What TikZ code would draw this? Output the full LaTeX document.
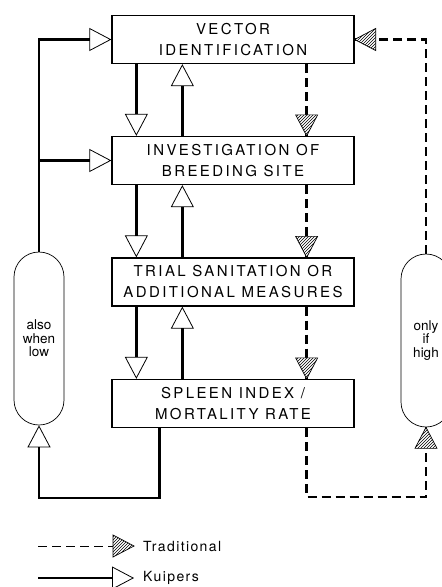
\documentclass[tikz,border=0pt]{standalone}
\usepackage{fontspec}
\setmainfont{TeX Gyre Heros}
\newfontfamily\boxfont[LetterSpace=16]{TeX Gyre Heros}
\newfontfamily\keyfont[LetterSpace=10]{TeX Gyre Heros}
\usetikzlibrary{arrows.meta, decorations.markings, patterns}
\newcommand\hatchtip{%
  \fill[white] (0pt,0pt) -- (-21pt,11pt) -- (-21pt,-11pt) -- cycle;
  \fill[pattern=north east lines] (0pt,0pt) -- (-21pt,11pt) -- (-21pt,-11pt) -- cycle;
  \draw[solid, line width=0.7pt] (0pt,0pt) -- (-21pt,11pt) -- (-21pt,-11pt) -- cycle;}

\begin{document}
\begin{tikzpicture}[
  x=1pt, y=-1pt,
  box/.style={draw, line width=1.3pt, minimum width=242pt, minimum height=48pt, inner sep=2pt, align=center, font=\boxfont\fontsize{15}{21}\selectfont},
  pill/.style={draw, line width=0.7pt, rounded corners=25pt, minimum width=50pt, minimum height=173pt, inner sep=0pt, align=center, font=\fontsize{13.5}{13.5}\selectfont},
  kuip/.style={-{Triangle[open, length=22pt, width=23pt, line width=0.8pt]}, line width=2.4pt},
  trad/.style={line width=2.4pt, dash pattern=on 9pt off 5pt, postaction={decorate}, decoration={markings, mark=at position 1 with {\hatchtip}}},
  legend/.style={anchor=west, inner xsep=9pt, font=\keyfont\fontsize{14}{16}\selectfont}
]
\useasboundingbox (0,0) rectangle (442,587);

\node[box] (vi) at (233,39.5) {VECTOR\\IDENTIFICATION};
\node[box] (ib) at (233,160.5) {INVESTIGATION OF\\BREEDING SITE};
\node[box] (ts) at (233,282) {TRIAL SANITATION OR\\ADDITIONAL MEASURES};
\node[box] (sm) at (233,403.5) {SPLEEN INDEX /\\MORTALITY RATE};

\node[pill] (lo) at (39,338.5) {also\\when\\low};
\node[pill] (hi) at (426,340.5) {only\\if\\high};

% between the boxes
\draw[kuip] ([xshift=25pt]vi.south west) -- ([xshift=25pt]ib.north west);
\draw[kuip] ([xshift=71pt]ib.north west) -- ([xshift=71pt]vi.south west);
\draw[trad] ([xshift=-48pt]vi.south east) -- ([xshift=-48pt]ib.north east);
\draw[kuip] ([xshift=25pt]ib.south west) -- ([xshift=25pt]ts.north west);
\draw[kuip] ([xshift=71pt]ts.north west) -- ([xshift=71pt]ib.south west);
\draw[trad] ([xshift=-48pt]ib.south east) -- ([xshift=-48pt]ts.north east);
\draw[kuip] ([xshift=25pt]ts.south west) -- ([xshift=25pt]sm.north west);
\draw[kuip] ([xshift=71pt]sm.north west) -- ([xshift=71pt]ts.south west);
\draw[trad] ([xshift=-48pt]ts.south east) -- ([xshift=-48pt]sm.north east);

% feedback loops
\draw[kuip] (lo.north) |- (vi.west);
\draw[kuip] (lo.north |- ib.west) -- (ib.west);
\draw[kuip] ([xshift=48pt]sm.south west) -- ++(0,70) -| (lo.south);
\draw[trad] ([xshift=-48pt]sm.south east) -- ++(0,69) -| (hi.south);
\draw[trad] (hi.north) |- (vi.east);

% legend
\node[legend] (tl) at (134,546) {Traditional};
\node[legend] (kl) at (134,578) {Kuipers};
\coordinate (ts0) at (38,546);
\coordinate (ks0) at (38,578);
\draw[trad, line width=0.8pt] (ts0) -- (tl.west);
\draw[kuip] (ks0) -- (kl.west);
\end{tikzpicture}
\end{document}
